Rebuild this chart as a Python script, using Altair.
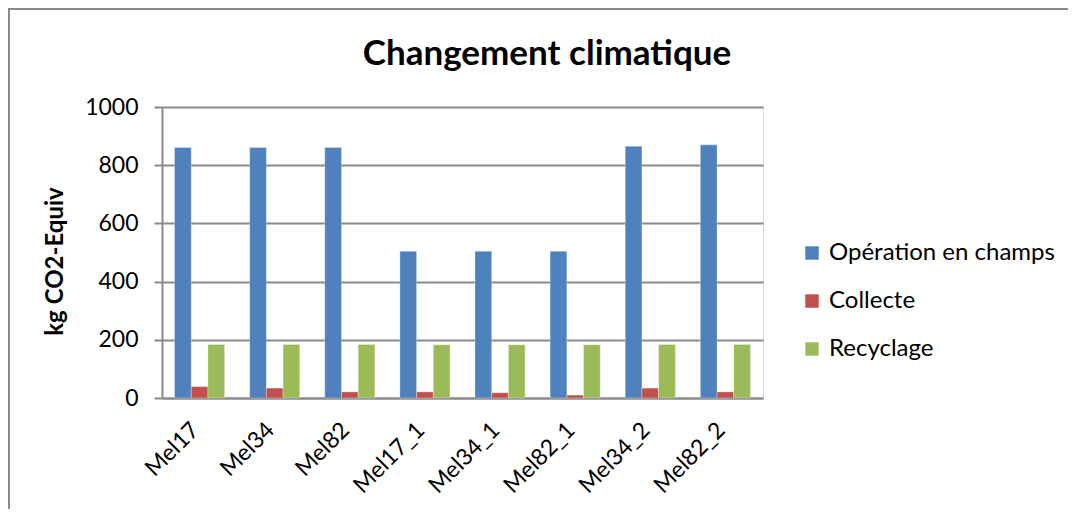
import altair as alt
import pandas as pd

categories = ["Mel17", "Mel34", "Mel82", "Mel17_1", "Mel34_1", "Mel82_1", "Mel34_2", "Mel82_2"]
series_names = ["Opération en champs", "Collecte", "Recyclage"]
operation = [861, 861, 861, 504, 504, 504, 865, 870]
collecte = [39, 34, 21, 21, 18, 10, 34, 21]
recyclage = [184, 184, 184, 183, 183, 183, 184, 184]
colors = ["#4F81BD", "#C0504D", "#9BBB59"]
y_ticks = [0, 200, 400, 600, 800, 1000]
title_text = "Changement climatique"

rows = []
for s, vals in zip(series_names, [operation, collecte, recyclage]):
    for c, v in zip(categories, vals):
        rows.append({"cat": c, "serie": s, "val": v})
df = pd.DataFrame(rows)

FONT = "Lato"
GRID = "#8A8A8A"

bars = alt.Chart(df).mark_bar(stroke="white", strokeWidth=0.5, strokeOpacity=0.6).encode(
    x=alt.X("cat:N", sort=categories,
            scale=alt.Scale(paddingInner=0.333, paddingOuter=0.167),
            axis=alt.Axis(title=None, labelAngle=-45, labelFont=FONT, labelFontSize=23,
                          labelColor="#000", ticks=False, domainColor=GRID, domainWidth=2,
                          labelPadding=28, labelOffset=-4, labelAlign="right", labelBaseline="middle",
                          grid=False)),
    xOffset=alt.XOffset("serie:N", sort=series_names, scale=alt.Scale(paddingInner=0, paddingOuter=0)),
    y=alt.Y("val:Q", scale=alt.Scale(domain=[0, 1000]),
            axis=alt.Axis(title="kg CO2-Equiv", values=y_ticks, format="d", titleFont=FONT, titleFontSize=24,
                          titleFontWeight="bold", titleColor="#000", titleX=-107, titleY=154,
                          titleAngle=-90, titleAlign="center", titleBaseline="middle",
                          labelFont=FONT, labelFontSize=23, labelColor="#000", labelPadding=16,
                          tickSize=8, tickColor=GRID, tickWidth=2, domainColor=GRID, domainWidth=2,
                          gridColor=GRID, gridWidth=2)),
    color=alt.Color("serie:N", sort=series_names,
                    scale=alt.Scale(domain=series_names, range=colors),
                    legend=alt.Legend(title=None, orient="none", legendX=638, legendY=134,
                                      symbolType="square", symbolSize=180, symbolStrokeWidth=0,
                                      labelFont=FONT, labelFontSize=24, labelColor="#000",
                                      labelLimit=0, rowPadding=24, labelOffset=5)),
)

border = alt.Chart(pd.DataFrame({"a": [0]})).mark_rect(
    fill=None, stroke=GRID, strokeWidth=2
).encode(
    x=alt.value(-153), x2=alt.value(1200), y=alt.value(-98), y2=alt.value(900)
)

title = alt.Chart(pd.DataFrame({"t": [title_text]})).mark_text(
    font=FONT, fontSize=35, fontWeight="bold", color="#000", align="center", baseline="middle"
).encode(text="t:N", x=alt.value(385), y=alt.value(-53))

chart = alt.layer(border, bars, title).properties(
    width=601, height=291,
    autosize=alt.AutoSizeParams(type="none"),
    padding={"left": 154, "top": 99, "right": 305, "bottom": 111},
).configure_view(stroke=None).configure(background="white")

chart.save("out.html", embed_options={"renderer": "svg", "actions": False})
